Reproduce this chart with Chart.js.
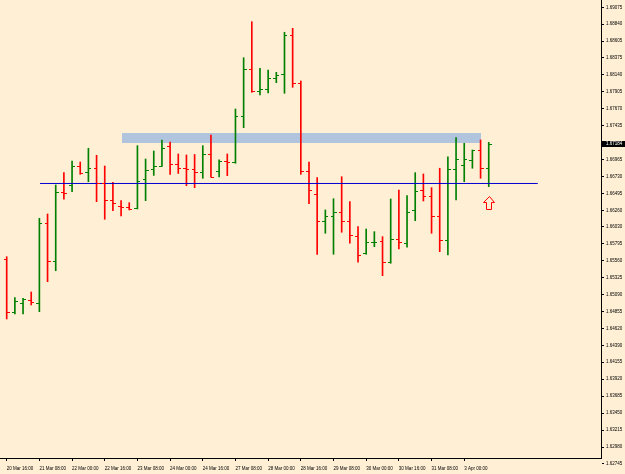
<!DOCTYPE html>
<html>
<head>
<meta charset="utf-8">
<script src="https://cdn.jsdelivr.net/npm/chart.js@4.4.1/dist/chart.umd.min.js"></script>
<style>
  html, body { margin: 0; padding: 0; background: #ffefd5; }
  #wrap { width: 625px; height: 474px; }
</style>
</head>
<body>
<div id="wrap"><canvas id="priceChart"></canvas></div>
<script>
// H4 bars, 20 Mar 16:00 .. 3 Apr 12:00
const xTickIdx = [0, 4, 8, 12, 16, 20, 24, 28, 32, 36, 40, 44, 48, 52, 56];
const xTickLabels = ['20 Mar 16:00', '21 Mar 08:00', '22 Mar 00:00', '22 Mar 16:00', '23 Mar 08:00',
  '24 Mar 00:00', '24 Mar 16:00', '27 Mar 08:00', '28 Mar 00:00', '28 Mar 16:00', '29 Mar 08:00',
  '30 Mar 00:00', '30 Mar 16:00', '31 Mar 08:00', '3 Apr 00:00'];
const yTickValues = [1.69075, 1.68840, 1.68605, 1.68375, 1.68140, 1.67905, 1.67670, 1.67435,
  1.66965, 1.66730, 1.66495, 1.66260, 1.66030, 1.65795, 1.65560, 1.65325, 1.65090, 1.64855,
  1.64620, 1.64390, 1.64155, 1.63920, 1.63685, 1.63450, 1.63215, 1.62980, 1.62745];

const openP = [1.65582, 1.64848, 1.64972, 1.65018, 1.64977, 1.66081, 1.65559, 1.66511, 1.66612, 1.66875,
  1.66792, 1.66844, 1.66636, 1.66404, 1.66321, 1.66311, 1.66289, 1.66691, 1.66830, 1.66875,
  1.67153, 1.66899, 1.66841, 1.66834, 1.66796, 1.67046, 1.66802, 1.66949, 1.66927, 1.67568,
  1.68220, 1.67919, 1.67943, 1.68091, 1.68146, 1.68691, 1.68022, 1.66806, 1.66483, 1.66106,
  1.66189, 1.66234, 1.66106, 1.65909, 1.65674, 1.65818, 1.65836, 1.65541, 1.65860, 1.65804,
  1.66266, 1.66539, 1.66464, 1.66182, 1.65850, 1.66834, 1.66889, 1.66963, 1.67093, 1.66852];
const highP = [1.65618, 1.65050, 1.65042, 1.65129, 1.66151, 1.66210, 1.66612, 1.66783, 1.66945, 1.66931,
  1.67121, 1.67024, 1.66875, 1.66650, 1.66395, 1.66367, 1.67157, 1.66972, 1.67083, 1.67236,
  1.67208, 1.67042, 1.67028, 1.67035, 1.67157, 1.67305, 1.66959, 1.67042, 1.67665, 1.68376,
  1.68875, 1.68230, 1.68206, 1.68174, 1.68729, 1.68784, 1.68054, 1.66931, 1.66713, 1.66266,
  1.66422, 1.66727, 1.66381, 1.66034, 1.66002, 1.65965, 1.65896, 1.66418, 1.66543, 1.66464,
  1.66783, 1.66765, 1.66575, 1.66844, 1.67004, 1.67268, 1.67190, 1.67097, 1.67236, 1.67204];
const lowP = [1.64755, 1.64824, 1.64824, 1.64949, 1.64856, 1.65272, 1.65424, 1.66414, 1.66519, 1.66760,
  1.66658, 1.66381, 1.66137, 1.66256, 1.66182, 1.66266, 1.66280, 1.66395, 1.66745, 1.66869,
  1.66760, 1.66772, 1.66602, 1.66575, 1.66705, 1.66719, 1.66723, 1.66741, 1.66913, 1.67406,
  1.67897, 1.67860, 1.67887, 1.68030, 1.67883, 1.67966, 1.66760, 1.66353, 1.65649, 1.65943,
  1.65652, 1.65957, 1.65804, 1.65541, 1.65652, 1.65757, 1.65355, 1.65527, 1.65725, 1.65749,
  1.66117, 1.66390, 1.65943, 1.65688, 1.65642, 1.66404, 1.66658, 1.66844, 1.66705, 1.66589];
const closeP = [1.64848, 1.65004, 1.65028, 1.64986, 1.66081, 1.65559, 1.66511, 1.66505, 1.66875, 1.66783,
  1.66844, 1.66636, 1.66404, 1.66358, 1.66303, 1.66284, 1.66672, 1.66821, 1.66875, 1.67118,
  1.66903, 1.66841, 1.66827, 1.66796, 1.67046, 1.66727, 1.66949, 1.66927, 1.67568, 1.68220,
  1.67915, 1.67943, 1.68091, 1.68137, 1.68691, 1.68022, 1.66806, 1.66543, 1.66106, 1.66182,
  1.66231, 1.66113, 1.65919, 1.65642, 1.65818, 1.65826, 1.65549, 1.65860, 1.65818, 1.66234,
  1.66533, 1.66464, 1.66182, 1.65850, 1.66834, 1.66972, 1.66968, 1.67093, 1.66852, 1.67184];

// drawn objects on the chart
const supportLevel = 1.66633;
const supportFrom = 4.08, supportTo = 65.0;
const zoneTop = 1.67333, zoneBottom = 1.67198;
const zoneFrom = 14.08, zoneTo = 58.0;
const arrowBar = 59, arrowTip = 1.66460;

const upColor = '#008000', downColor = '#ff0000', bgColor = '#ffefd5';
const idx = openP.map((_, i) => i);
const colorOf = i => closeP[i] >= openP[i] ? upColor : downColor;
const axisFont = { family: "'Liberation Sans', Arial, sans-serif", size: 4.5 };

const mtPlugin = {
  id: 'mtPlugin',
  beforeDraw(chart) {
    const c = chart.ctx;
    c.save();
    c.fillStyle = bgColor;
    c.fillRect(0, 0, chart.width, chart.height);
    c.restore();
  },
  beforeDatasetsDraw(chart) {
    const c = chart.ctx, xs = chart.scales.x, ys = chart.scales.y;
    const x1 = xs.getPixelForValue(zoneFrom), x2 = xs.getPixelForValue(zoneTo);
    const y1 = ys.getPixelForValue(zoneTop), y2 = ys.getPixelForValue(zoneBottom);
    c.save();
    c.fillStyle = '#b0c4de';
    c.fillRect(Math.round(x1), Math.round(y1), Math.round(x2 - x1), Math.round(y2 - y1));
    c.restore();
  },
  afterDatasetsDraw(chart) {
    const c = chart.ctx, xs = chart.scales.x, ys = chart.scales.y;
    c.save();
    c.lineWidth = 1;
    idx.forEach(i => {
      const x = Math.round(xs.getPixelForValue(i));
      const yo = Math.round(ys.getPixelForValue(openP[i])) + 0.5;
      const yc = Math.round(ys.getPixelForValue(closeP[i])) + 0.5;
      c.strokeStyle = colorOf(i);
      c.beginPath();
      c.moveTo(x - 3, yo); c.lineTo(x, yo);
      c.moveTo(x, yc); c.lineTo(x + 3, yc);
      c.stroke();
    });
    // up arrow under the last bar
    const ax = Math.round(xs.getPixelForValue(arrowBar)) + 0.5;
    const ay = Math.round(ys.getPixelForValue(arrowTip)) + 0.5;
    c.strokeStyle = '#ff0000';
    c.fillStyle = bgColor;
    c.beginPath();
    c.moveTo(ax, ay);
    c.lineTo(ax + 5, ay + 6);
    c.lineTo(ax + 2, ay + 6);
    c.lineTo(ax + 2, ay + 13);
    c.lineTo(ax - 3, ay + 13);
    c.lineTo(ax - 3, ay + 6);
    c.lineTo(ax - 6, ay + 6);
    c.closePath();
    c.fill();
    c.stroke();
    c.restore();
  },
  afterDraw(chart) {
    const c = chart.ctx, ys = chart.scales.y, area = chart.chartArea;
    const last = closeP[closeP.length - 1];
    const y = Math.round(ys.getPixelForValue(last));
    c.save();
    c.fillStyle = '#000';
    c.fillRect(area.right, y - 3, 24, 6);
    c.fillStyle = '#fff';
    c.font = "4.5px 'Liberation Sans', Arial, sans-serif";
    c.textBaseline = 'middle';
    c.fillText(last.toFixed(5), area.right + 5, y);
    c.restore();
  }
};

new Chart(document.getElementById('priceChart'), {
  type: 'bar',
  data: {
    datasets: [
      {
        type: 'line',
        data: [{ x: supportFrom, y: supportLevel }, { x: supportTo, y: supportLevel }],
        borderColor: '#0000cd', borderWidth: 1, pointRadius: 0, order: 0
      },
      {
        data: idx.map(i => ({ x: i, y: [lowP[i], highP[i]] })),
        backgroundColor: idx.map(colorOf),
        barThickness: 1, order: 1
      }
    ]
  },
  options: {
    responsive: true, maintainAspectRatio: false, animation: false,
    layout: { padding: 0 },
    plugins: { legend: { display: false }, tooltip: { enabled: false } },
    scales: {
      x: {
        type: 'linear', min: -0.82, max: 72.74, offset: false,
        afterBuildTicks: s => { s.ticks = xTickIdx.map(v => ({ value: v })); },
        afterFit: s => { s.height = 16; s.paddingLeft = 0; s.paddingRight = 0; },
        border: { color: '#000', width: 1 },
        grid: { drawOnChartArea: false, offset: false, tickLength: 3, color: '#000' },
        ticks: {
          autoSkip: false, maxRotation: 0, align: 'start', padding: 5, color: '#000', font: axisFont,
          callback: (v, i) => xTickLabels[i]
        }
      },
      y: {
        position: 'right', min: 1.62828, max: 1.69176,
        afterBuildTicks: s => { s.ticks = yTickValues.map(v => ({ value: v })); },
        afterFit: s => { s.width = 24; s.paddingTop = 0; s.paddingBottom = 0; },
        border: { color: '#000', width: 1 },
        grid: { drawOnChartArea: false, tickLength: 3, color: '#000' },
        ticks: { padding: 2, color: '#000', font: axisFont, callback: v => v.toFixed(5) }
      }
    }
  },
  plugins: [mtPlugin]
});
</script>
</body>
</html>
